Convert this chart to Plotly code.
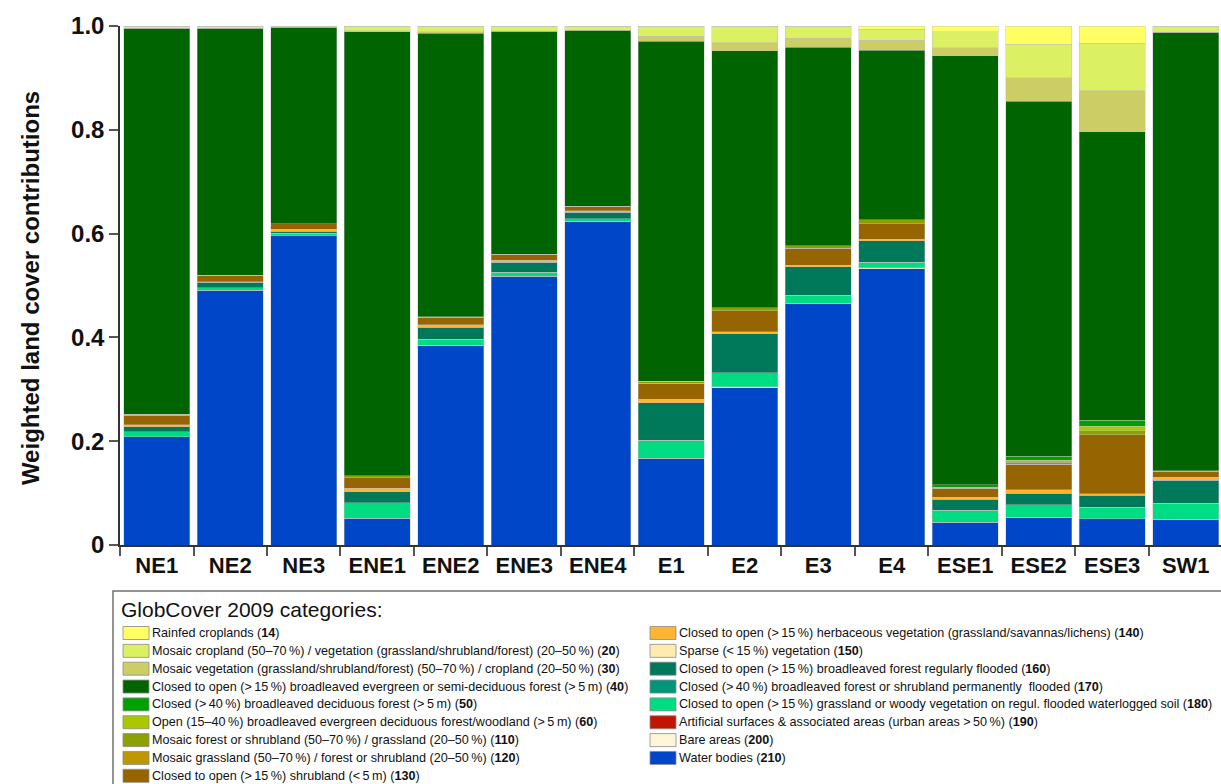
import plotly.graph_objects as go

# Sampling sites (x categories)
sites = ["NE1", "NE2", "NE3", "ENE1", "ENE2", "ENE3", "ENE4",
         "E1", "E2", "E3", "E4", "ESE1", "ESE2", "ESE3", "SW1"]

# Weighted contribution of each GlobCover 2009 class per site
lc_14 = [0, 0, 0, 0, 0, 0, 0, 0, 0, 0, 0.006, 0.011, 0.035, 0.033, 0]
lc_20 = [0.004, 0.004, 0.002, 0.009, 0.011, 0.010, 0.008, 0.020, 0.032, 0.024, 0.021, 0.031, 0.065, 0.092, 0.012]
lc_30 = [0, 0, 0, 0.002, 0.003, 0, 0, 0.009, 0.016, 0.017, 0.020, 0.015, 0.045, 0.079, 0]
lc_40 = [0.744, 0.476, 0.379, 0.856, 0.546, 0.430, 0.339, 0.655, 0.495, 0.382, 0.326, 0.827, 0.684, 0.556, 0.845]
lc_50 = [0, 0, 0, 0, 0, 0, 0, 0, 0, 0, 0, 0.005, 0.008, 0.011, 0]
lc_60 = [0, 0, 0, 0, 0, 0, 0, 0, 0, 0, 0, 0, 0.004, 0.009, 0]
lc_110 = [0.002, 0, 0, 0.003, 0.001, 0.001, 0.001, 0.004, 0.006, 0.005, 0.008, 0.002, 0.003, 0.008, 0.001]
lc_120 = [0] * 15
lc_130 = [0.018, 0.013, 0.011, 0.021, 0.015, 0.010, 0.008, 0.031, 0.040, 0.033, 0.030, 0.017, 0.050, 0.113, 0.011]
lc_140 = [0.004, 0.001, 0.003, 0.006, 0.004, 0.004, 0.003, 0.007, 0.004, 0.003, 0.003, 0.004, 0.006, 0.003, 0.006]
lc_150 = [0] * 15
lc_160 = [0.010, 0.010, 0.004, 0.022, 0.024, 0.019, 0.012, 0.072, 0.075, 0.055, 0.041, 0.021, 0.022, 0.023, 0.045]
lc_170 = [0] * 15
lc_180 = [0.009, 0.005, 0.005, 0.029, 0.011, 0.008, 0.005, 0.035, 0.027, 0.015, 0.011, 0.023, 0.025, 0.022, 0.030]
lc_190 = [0] * 15
lc_200 = [0, 0, 0, 0, 0, 0, 0, 0, 0.002, 0, 0.002, 0, 0, 0, 0]
lc_210 = [0.209, 0.491, 0.596, 0.052, 0.385, 0.518, 0.624, 0.167, 0.303, 0.466, 0.532, 0.044, 0.053, 0.051, 0.050]

# Class codes, colours and descriptions
codes = [14, 20, 30, 40, 50, 60, 110, 120, 130, 140, 150, 160, 170, 180, 190, 200, 210]
values = [lc_14, lc_20, lc_30, lc_40, lc_50, lc_60, lc_110, lc_120, lc_130,
          lc_140, lc_150, lc_160, lc_170, lc_180, lc_190, lc_200, lc_210]
colors = ["#FFFF64", "#DCF064", "#CDCD66", "#006400", "#00A000", "#AAC800",
          "#8CA000", "#BE9600", "#966400", "#FFB432", "#FFEBAF", "#00785A",
          "#009678", "#00DC82", "#C31400", "#FFF5D7", "#0046C8"]
ts = "\u2009"
labels = [
    "Rainfed croplands",
    f"Mosaic cropland (50–70{ts}%) / vegetation (grassland/shrubland/forest) (20–50{ts}%)",
    f"Mosaic vegetation (grassland/shrubland/forest) (50–70{ts}%) / cropland (20–50{ts}%)",
    f"Closed to open (&gt;{ts}15{ts}%) broadleaved evergreen or semi-deciduous forest (&gt;{ts}5{ts}m)",
    f"Closed (&gt;{ts}40{ts}%) broadleaved deciduous forest (&gt;{ts}5{ts}m)",
    f"Open (15–40{ts}%) broadleaved evergreen deciduous forest/woodland (&gt;{ts}5{ts}m)",
    f"Mosaic forest or shrubland (50–70{ts}%) / grassland (20–50{ts}%)",
    f"Mosaic grassland (50–70{ts}%) / forest or shrubland (20–50{ts}%)",
    f"Closed to open (&gt;{ts}15{ts}%) shrubland (&lt;{ts}5{ts}m)",
    f"Closed to open (&gt;{ts}15{ts}%) herbaceous vegetation (grassland/savannas/lichens)",
    f"Sparse (&lt;{ts}15{ts}%) vegetation",
    f"Closed to open (&gt;{ts}15{ts}%) broadleaved forest regularly flooded",
    f"Closed (&gt;{ts}40{ts}%) broadleaved forest or shrubland permanently  flooded",
    f"Closed to open (&gt;{ts}15{ts}%) grassland or woody vegetation on regul. flooded waterlogged soil",
    f"Artificial surfaces &amp; associated areas (urban areas &gt;{ts}50{ts}%)",
    "Bare areas",
    "Water bodies",
]

FONT = "Arial, Liberation Sans, sans-serif"

fig = go.Figure()
# stack from water bodies (bottom) up to rainfed croplands (top)
for code, vals, col in reversed(list(zip(codes, values, colors))):
    fig.add_trace(go.Bar(
        x=sites, y=vals, name=str(code), marker_color=col,
        marker_line=dict(color="rgba(190,190,190,0.7)", width=0.6),
        showlegend=False,
    ))

# plot-area geometry in pixels
L, R, T, B = 120, 1221, 26, 545
W, H = R - L, B - T


def px(x):
    return (x - L) / W


def py(y):
    return (B - y) / H


shapes = []
annotations = []

# legend frame and title
shapes.append(dict(type="rect", xref="paper", yref="paper",
                   x0=px(113), x1=px(1232), y0=py(591), y1=py(800),
                   line=dict(color="#707070", width=1.5), fillcolor="white"))
annotations.append(dict(xref="paper", yref="paper", x=px(119), y=py(609),
                        xanchor="left", yanchor="middle", showarrow=False,
                        text="GlobCover 2009 categories:",
                        font=dict(family=FONT, size=21, color="#111")))

row0, drow = 633, 17.85
for i, (code, col, lab) in enumerate(zip(codes, colors, labels)):
    if i < 9:
        sx, r = 123, i
    else:
        sx, r = 650, i - 9
    yc = row0 + r * drow
    shapes.append(dict(type="rect", xref="paper", yref="paper",
                       x0=px(sx), x1=px(sx + 26), y0=py(yc - 6.5), y1=py(yc + 6.5),
                       fillcolor=col, line=dict(color="#8a8a8a", width=0.8)))
    annotations.append(dict(xref="paper", yref="paper", x=px(sx + 27), y=py(yc),
                            xanchor="left", yanchor="middle", showarrow=False,
                            text=f"{lab} (<b>{code}</b>)",
                            font=dict(family=FONT, size=12.6, color="#111")))

# y-axis title
annotations.append(dict(xref="paper", yref="paper", x=px(30), y=0.495,
                        xanchor="center", yanchor="middle", showarrow=False,
                        textangle=-90, text="<b>Weighted land cover contributions</b>",
                        font=dict(family=FONT, size=24, color="#111")))

fig.update_layout(
    barmode="stack",
    bargap=0.1,
    width=1221, height=784,
    margin=dict(l=L, r=1221 - R, t=T, b=784 - B, autoexpand=False),
    paper_bgcolor="white", plot_bgcolor="white",
    shapes=shapes, annotations=annotations,
    font=dict(family=FONT, color="#111"),
)
fig.update_xaxes(
    range=[-0.5, 14.48], showline=True, linecolor="#333", linewidth=1.5,
    ticks="outside", ticklen=9, tickwidth=1.5, tickcolor="#555",
    tickson="boundaries", showgrid=False,
    tickfont=dict(family=FONT, size=22, color="#111"),
    tickprefix="<b>", ticksuffix="</b>",
)
fig.update_yaxes(
    range=[0, 1.0], showline=True, linecolor="#333", linewidth=1.5,
    ticks="outside", ticklen=9, tickwidth=1.5, tickcolor="#555",
    tickvals=[0, 0.2, 0.4, 0.6, 0.8, 1.0],
    ticktext=["<b>0</b>", "<b>0.2</b>", "<b>0.4</b>", "<b>0.6</b>", "<b>0.8</b>", "<b>1.0</b>"],
    showgrid=False, zeroline=False,
    tickfont=dict(family=FONT, size=24, color="#111"),
)

fig.write_html("out.html")
